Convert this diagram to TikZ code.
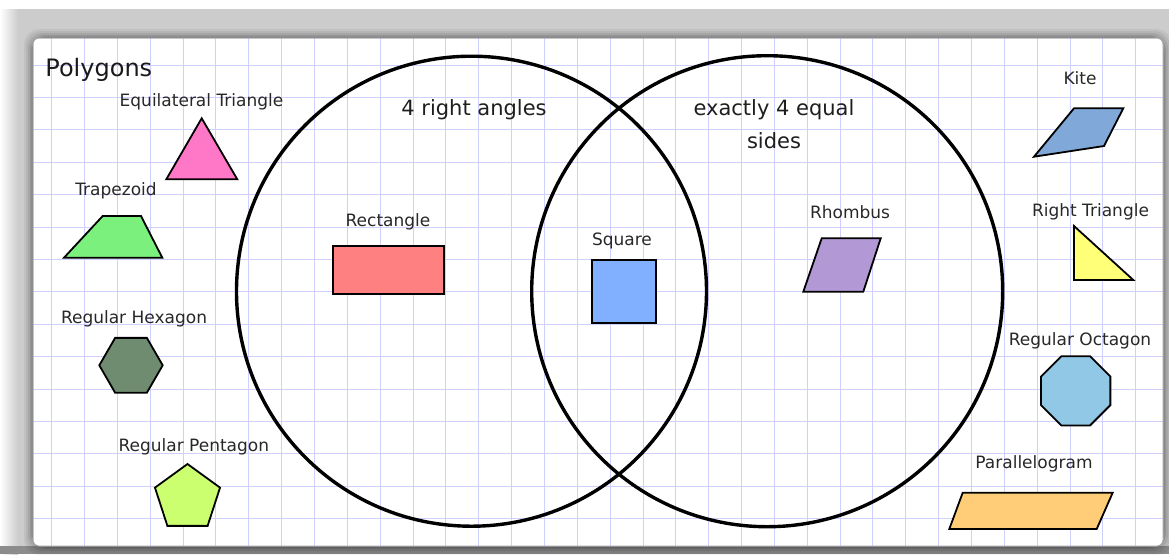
\documentclass[tikz,border=0pt]{standalone}
\usepackage{fontspec}
\setmainfont{DejaVu Sans}
\begin{document}
\begin{tikzpicture}[x=0.5pt,y=-0.5pt,
  lab/.style={inner sep=0pt, font=\fontsize{8.5pt}{10pt}\selectfont, text={rgb,255:red,40;green,40;blue,40}, anchor=base},
  setlab/.style={inner sep=0pt, font=\fontsize{10.5pt}{12pt}\selectfont, text={rgb,255:red,30;green,30;blue,30}, anchor=base},
  gridline/.style={draw={rgb,255:red,208;green,208;blue,255}, line width=0.5pt},
  shapeline/.style={draw=black, line width=0.9pt, line join=miter},
  venn/.style={draw=black, line width=1.7pt}]
\useasboundingbox (0,0) rectangle (1169,554);
% ---- background ----
\definecolor{bggray}{RGB}{204,204,204}
\fill[bggray] (0,0) rectangle (1169,554);
\fill[white] (0,0) rectangle (1169,9);
\shade[left color=white, right color=bggray] (0,9) rectangle (18,554);
\fill[black!45] (0,546) rectangle (1169,554);
% shadow
\foreach \s/\o in {9/0.05,7/0.06,5/0.08,3/0.1,1.5/0.12}
  \fill[black, opacity=\o, rounded corners=8pt] (33-\s,38-\s) rectangle (1163+\s,546+\s);
% ---- panel ----
\fill[white, rounded corners=3pt] (33,38) rectangle (1163,546);
\begin{scope}
  \clip[rounded corners=3pt] (33,38) rectangle (1163,546);
  \foreach \i in {0,...,33} \draw[gridline] ({51.7+32.85*\i},38) -- ++(0,508);
  \foreach \j in {0,...,14} \draw[gridline] (33,{65+32.4*\j}) -- ++(1130,0);
\end{scope}
\draw[black!35, line width=0.5pt, rounded corners=3pt] (33,38) rectangle (1163,546);
% ---- Venn circles ----
\draw[venn] (471.5,291.2) circle[radius=235];
\draw[venn] (767.2,291.2) circle[radius=235.5];
\node[setlab] (setA) at (474,115) {4 right angles};
\node[setlab] (setB1) at (774,115) {exactly 4 equal};
\node[setlab] (setB2) at (774,148) {sides};
% ---- title ----
\node[inner sep=0pt, anchor=base west, font=\fontsize{12pt}{14pt}\selectfont, text={rgb,255:red,25;green,25;blue,25}] (title) at (45,76) {Polygons};
% ---- shapes ----
\definecolor{cpink}{RGB}{255,120,200}
\definecolor{cgreen}{RGB}{124,240,124}
\definecolor{chex}{RGB}{112,140,112}
\definecolor{cpent}{RGB}{204,255,112}
\definecolor{ckite}{RGB}{128,168,216}
\definecolor{cyel}{RGB}{255,255,120}
\definecolor{coct}{RGB}{144,200,230}
\definecolor{corange}{RGB}{255,204,120}
\definecolor{cred}{RGB}{255,128,128}
\definecolor{cblue}{RGB}{128,176,255}
\definecolor{cpurp}{RGB}{178,152,212}
% equilateral triangle
\node[lab] (leq) at (201.5,106.7) {Equilateral Triangle};
\filldraw[shapeline, fill=cpink] (201.7,118.3) -- (237.3,179.3) -- (166.3,179.3) -- cycle;
% trapezoid
\node[lab] (ltrap) at (116,195) {Trapezoid};
\filldraw[shapeline, fill=cgreen] (102.7,216) -- (141,216) -- (162.3,257.7) -- (64,257.7) -- cycle;
% hexagon
\node[lab] (lhex) at (134,323.3) {Regular Hexagon};
\filldraw[shapeline, fill=chex] (131,365.3) +(0:31.7) -- +(60:31.7) -- +(120:31.7) -- +(180:31.7) -- +(240:31.7) -- +(300:31.7) -- cycle;
% pentagon
\node[lab] (lpent) at (193.8,451.7) {Regular Pentagon};
\filldraw[shapeline, fill=cpent] (187.5,498.2) +(-90:34.2) -- +(-18:34.2) -- +(54:34.2) -- +(126:34.2) -- +(198:34.2) -- cycle;
% kite
\node[lab] (lkite) at (1080,84.3) {Kite};
\filldraw[shapeline, fill=ckite] (1074,108.3) -- (1123.3,108.3) -- (1104,146) -- (1034,156.7) -- cycle;
% right triangle
\node[lab] (lrt) at (1090.5,216.7) {Right Triangle};
\filldraw[shapeline, fill=cyel] (1074,226) -- (1074,280) -- (1133.3,280) -- cycle;
% octagon
\node[lab] (loct) at (1080,345) {Regular Octagon};
\filldraw[shapeline, fill=coct] (1075.7,390.8) +(22.5:37.5) -- +(67.5:37.5) -- +(112.5:37.5) -- +(157.5:37.5) -- +(202.5:37.5) -- +(247.5:37.5) -- +(292.5:37.5) -- +(337.5:37.5) -- cycle;
% parallelogram
\node[lab] (lpar) at (1034,468.3) {Parallelogram};
\filldraw[shapeline, fill=corange] (962.7,492.7) -- (1112.7,492.7) -- (1096.7,529) -- (949.3,529) -- cycle;
% rectangle
\node[lab] (lrect) at (388,226) {Rectangle};
\filldraw[shapeline, fill=cred] (333.3,246) rectangle (444,294.3);
% square
\node[lab] (lsq) at (622,245) {Square};
\filldraw[shapeline, fill=cblue] (591.7,260) rectangle (656,322.7);
% rhombus
\node[lab] (lrh) at (850,218.3) {Rhombus};
\filldraw[shapeline, fill=cpurp] (821.7,238.3) -- (880.7,238.3) -- (863.3,291.7) -- (803.3,291.7) -- cycle;
\end{tikzpicture}
\end{document}
